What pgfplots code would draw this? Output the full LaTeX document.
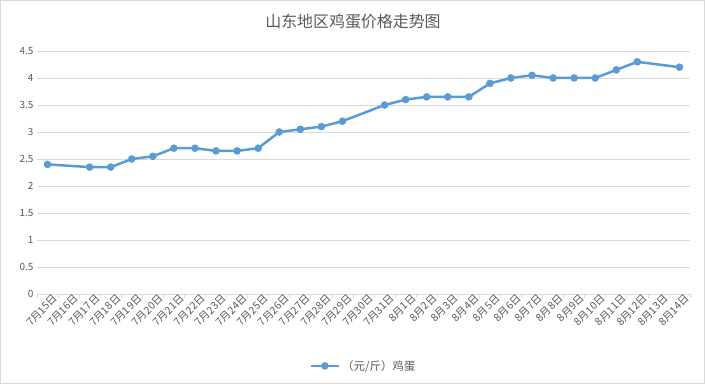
\documentclass[border=0pt]{standalone}
\usepackage{fontspec}
\setmainfont{Noto Sans CJK SC}
\usepackage{pgfplots}
\pgfplotsset{compat=1.18}
\definecolor{lineblue}{HTML}{5B9BD5}
\definecolor{gridgray}{HTML}{D9D9D9}
\definecolor{txtgray}{HTML}{595959}
\begin{document}
\begin{tikzpicture}[x=1bp,y=1bp]
\path[use as bounding box] (0,0) rectangle (705,384);
\draw[gridgray] (0.5,0.5) rectangle (704.5,383.5);
\node[txtgray, font=\fontsize{16}{18}\selectfont] at (353,363) {山东地区鸡蛋价格走势图};
\begin{axis}[
  at={(37bp,90bp)}, anchor=south west,
  scale only axis, width=653bp, height=243bp,
  xmin=-0.5, xmax=30.5, ymin=0, ymax=4.5,
  ytick={0,0.5,1,1.5,2,2.5,3,3.5,4,4.5},
  yticklabels={0,0.5,1,1.5,2,2.5,3,3.5,4,4.5},
  xtick={0,...,30},
  xticklabels={7月15日,7月16日,7月17日,7月18日,7月19日,7月20日,7月21日,7月22日,7月23日,7月24日,7月25日,7月26日,7月27日,7月28日,7月29日,7月30日,7月31日,8月1日,8月2日,8月3日,8月4日,8月5日,8月6日,8月7日,8月8日,8月9日,8月10日,8月11日,8月12日,8月13日,8月14日},
  minor xtick={-0.5,0.5,...,30.5},
  major tick length=0pt,
  minor tick length=4bp,
  tick align=outside,
  axis x line*=bottom, axis y line*=left,
  y axis line style={draw=none},
  ytick style={draw=none},
  minor tick style={gridgray, line width=0.75bp},
  ymajorgrids, major grid style={gridgray, line width=0.75bp},
  x axis line style={gridgray, line width=0.75bp, -},
  xticklabel style={rotate=45, anchor=north east, font=\fontsize{10.5}{12}\selectfont, text=txtgray, inner sep=1bp, yshift=-2bp, xshift=5bp},
  yticklabel style={font=\fontsize{10}{12}\selectfont, text=txtgray},
  /pgf/number format/assume math mode=true,
  legend style={draw=none, at={(0.5,-0.296)}, anchor=center, font=\fontsize{11.5}{13}\selectfont, text=txtgray},
  legend image code/.code={\draw[mark repeat=2,mark phase=2,#1] plot coordinates {(0bp,0bp) (14bp,0bp) (28bp,0bp)};},
]
\addplot[lineblue, line width=2.5bp, mark=*, mark size=3.5bp, mark options={fill=lineblue, draw=lineblue, line width=0.5bp}] coordinates {
(0,2.4) (2,2.35) (3,2.35) (4,2.5) (5,2.55) (6,2.7) (7,2.7) (8,2.65) (9,2.65) (10,2.7)
(11,3.0) (12,3.05) (13,3.1) (14,3.2) (16,3.5) (17,3.6) (18,3.65) (19,3.65) (20,3.65)
(21,3.9) (22,4.0) (23,4.05) (24,4.0) (25,4.0) (26,4.0) (27,4.15) (28,4.3) (30,4.2)
};
\addlegendentry{（元/斤）鸡蛋}
\end{axis}
\end{tikzpicture}
\end{document}
